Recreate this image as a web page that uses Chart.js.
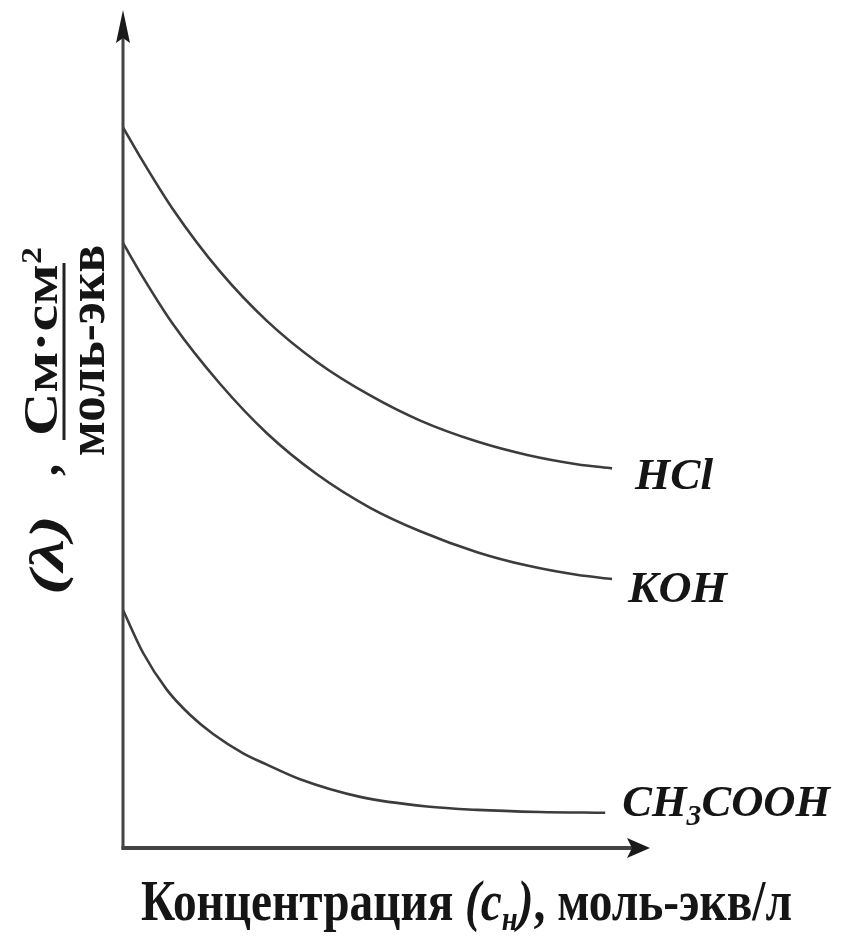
<!DOCTYPE html>
<html>
<head>
<meta charset="utf-8">
<script src="https://cdn.jsdelivr.net/npm/chart.js"></script>
<style>
  body { margin: 0; background: #fff; }
  canvas { display: block; }
</style>
</head>
<body>
<canvas id="line-chart" width="841" height="936"></canvas>
<script>
// concentration values (arbitrary units)
const concStrong = [0, 0.38, 0.95, 1.84, 2.73, 3.68, 4.69, 5.64, 6.72, 7.67, 8.61, 9.28];
const lambdaHCl = [86.0, 81.9, 76.2, 68.8, 62.9, 58.0, 54.0, 51.0, 48.5, 46.9, 45.8, 45.3];
const lambdaKOH = [72.2, 68.1, 62.5, 55.4, 49.5, 44.6, 40.6, 37.8, 35.3, 33.7, 32.6, 32.1];

const concWeak = [0, 0.38, 0.83, 1.27, 1.71, 2.28, 2.73, 3.36, 4.50, 5.77, 6.72, 7.91, 9.15];
const lambdaCH3COOH = [28.4, 23.3, 18.9, 15.9, 13.6, 11.3, 9.95, 8.2, 6.1, 4.95, 4.55, 4.3, 4.2];

const seriesNames = ['HCl', 'KOH', 'CH3COOH'];

const SERIF = '"Liberation Serif", "Times New Roman", serif';
const INK = '#151515';
const LINE = '#3c3c3c';

function toPoints(xs, ys) {
  return ys.map((y, i) => ({ x: xs[i], y: y }));
}

// draw a list of text runs, squeezed/stretched to fit between x0 and x1
function drawRuns(ctx, runs, x0, x1, baseline) {
  let total = 0;
  runs.forEach(r => { ctx.font = r.font; r.w = ctx.measureText(r.t).width; total += r.w; });
  const k = (x1 - x0) / total;
  ctx.save();
  ctx.translate(x0, baseline);
  ctx.scale(k, 1);
  ctx.textBaseline = 'alphabetic';
  ctx.textAlign = 'left';
  let cx = 0;
  runs.forEach(r => {
    ctx.font = r.font;
    ctx.fillText(r.t, cx, r.dy || 0);
    cx += r.w;
  });
  ctx.restore();
}

// label layout next to the end of each curve
const labelLayout = {
  'HCl': { dx: 23, dy: 21, w: 78 },
  'KOH': { dx: 16, dy: 23, w: 99 },
  'CH3COOH': { dx: 17, dy: 3, w: 208 }
};

const decorations = {
  id: 'decorations',
  beforeDraw(chart) {
    const ctx = chart.ctx;
    ctx.save();
    ctx.fillStyle = '#fff';
    ctx.fillRect(0, 0, chart.width, chart.height);
    ctx.restore();
  },
  afterDraw(chart) {
    const ctx = chart.ctx;
    const xs = chart.scales.x, ys = chart.scales.y;
    const ox = xs.getPixelForValue(0), oy = ys.getPixelForValue(0);
    const top = ys.getPixelForValue(ys.max), right = xs.getPixelForValue(xs.max);
    ctx.save();
    ctx.strokeStyle = '#444';
    ctx.fillStyle = '#1a1a1a';
    ctx.lineCap = 'butt';
    // y axis
    ctx.lineWidth = 3;
    ctx.beginPath(); ctx.moveTo(ox, oy + 1.5); ctx.lineTo(ox, top + 20); ctx.stroke();
    ctx.beginPath();
    ctx.moveTo(ox, top);
    ctx.lineTo(ox + 7, top + 33);
    ctx.lineTo(ox, top + 28);
    ctx.lineTo(ox - 7, top + 33);
    ctx.closePath(); ctx.fill();
    // x axis
    ctx.lineWidth = 4;
    ctx.beginPath(); ctx.moveTo(ox - 1.5, oy); ctx.lineTo(right - 15, oy); ctx.stroke();
    ctx.beginPath();
    ctx.moveTo(right, oy);
    ctx.lineTo(right - 23, oy - 10);
    ctx.lineTo(right - 18, oy);
    ctx.lineTo(right - 23, oy + 10);
    ctx.closePath(); ctx.fill();
    ctx.restore();

    // curve labels
    ctx.save();
    ctx.fillStyle = INK;
    const bi = 'italic bold 45px ' + SERIF;
    chart.data.datasets.forEach((ds, i) => {
      const meta = chart.getDatasetMeta(i);
      const last = meta.data[meta.data.length - 1];
      const L = labelLayout[ds.label];
      let runs;
      if (ds.label === 'CH3COOH') {
        runs = [{ t: 'CH', font: bi }, { t: '3', font: 'italic bold 30px ' + SERIF, dy: 9 }, { t: 'COOH', font: bi }];
      } else {
        runs = [{ t: ds.label, font: bi }];
      }
      const x0 = last.x + L.dx;
      drawRuns(ctx, runs, x0, x0 + L.w, last.y + L.dy);
    });
    ctx.restore();

    // x axis title
    ctx.save();
    ctx.fillStyle = INK;
    const b56 = 'bold 56px ' + SERIF, bi56 = 'italic bold 56px ' + SERIF;
    drawRuns(ctx, [
      { t: 'Концентрация ', font: b56 },
      { t: '(', font: bi56 },
      { t: 'c', font: bi56 },
      { t: 'н', font: 'italic bold 34px ' + SERIF, dy: 10 },
      { t: ')', font: bi56 },
      { t: ', моль-экв/л', font: b56 }
    ], 141, 792, 920);
    ctx.restore();

    // y axis title, rotated: (u, v) -> image (v, -u)
    ctx.save();
    ctx.fillStyle = INK;
    ctx.rotate(-Math.PI / 2);
    const b48 = 'bold 48px ' + SERIF;
    const bi48 = 'italic bold 48px ' + SERIF;
    drawRuns(ctx, [{ t: '(', font: bi48 }, { t: 'λ', font: bi48 }, { t: ')', font: bi48 }], -595, -515, 63);
    drawRuns(ctx, [{ t: ',', font: b48 }], -476, -464, 58);
    drawRuns(ctx, [{ t: 'См·см', font: b48 }], -436, -264, 57);
    drawRuns(ctx, [{ t: '2', font: 'bold 30px ' + SERIF }], -264, -247, 41);
    drawRuns(ctx, [{ t: 'моль-экв', font: 'bold 52px ' + SERIF }], -456, -245, 104);
    ctx.restore();
    ctx.save();
    ctx.fillStyle = '#222';
    ctx.fillRect(62.5, 263, 3, 177);
    ctx.restore();
  }
};

new Chart(document.getElementById('line-chart'), {
  type: 'scatter',
  data: {
    datasets: [
      { label: seriesNames[0], data: toPoints(concStrong, lambdaHCl) },
      { label: seriesNames[1], data: toPoints(concStrong, lambdaKOH) },
      { label: seriesNames[2], data: toPoints(concWeak, lambdaCH3COOH) }
    ].map(d => Object.assign(d, {
      showLine: true,
      borderColor: LINE,
      borderWidth: 2.6,
      pointRadius: 0,
      pointHoverRadius: 0,
      cubicInterpolationMode: 'monotone',
      fill: false
    }))
  },
  options: {
    responsive: false,
    animation: false,
    events: [],
    layout: { padding: { left: 123, right: 191, top: 10, bottom: 88 } },
    scales: {
      x: { type: 'linear', min: 0, max: 10, display: false },
      y: { type: 'linear', min: 0, max: 100, display: false }
    },
    plugins: {
      legend: { display: false },
      tooltip: { enabled: false },
      title: { display: false }
    }
  },
  plugins: [decorations]
});
</script>
</body>
</html>
